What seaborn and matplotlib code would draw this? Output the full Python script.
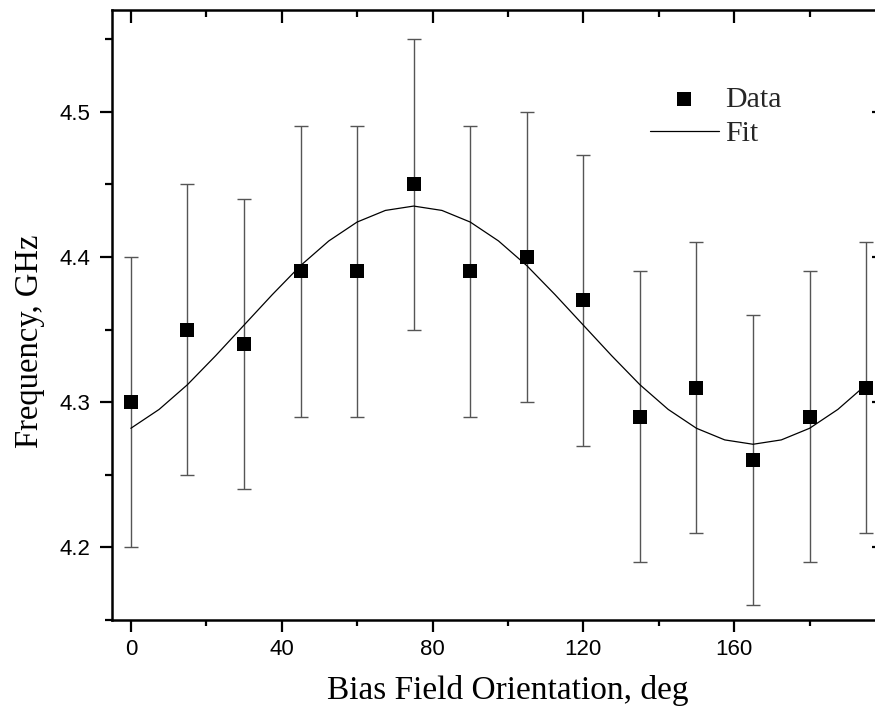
import matplotlib
matplotlib.use("Agg")
import matplotlib.pyplot as plt
import seaborn as sns
from matplotlib.ticker import MultipleLocator

# ---- data ----
angle = [0, 15, 30, 45, 60, 75, 90, 105, 120, 135, 150, 165, 180, 195]
freq = [4.30, 4.35, 4.34, 4.39, 4.39, 4.45, 4.39, 4.40, 4.37, 4.29, 4.31, 4.26, 4.29, 4.31]
freq_err = [0.10, 0.10, 0.10, 0.10, 0.10, 0.10, 0.10, 0.10, 0.10, 0.10, 0.10, 0.10, 0.10, 0.10]

# fit curve values every 7.5 deg
fit_angle = [0, 7.5, 15, 22.5, 30, 37.5, 45, 52.5, 60, 67.5, 75, 82.5, 90, 97.5,
             105, 112.5, 120, 127.5, 135, 142.5, 150, 157.5, 165, 172.5, 180, 187.5, 195]
fit_freq = [4.282, 4.295, 4.312, 4.332, 4.353, 4.374, 4.394, 4.411, 4.424, 4.432, 4.435,
            4.432, 4.424, 4.411, 4.394, 4.374, 4.353, 4.332, 4.312, 4.295, 4.282, 4.274,
            4.271, 4.274, 4.282, 4.295, 4.312]

x_ticks = [0, 40, 80, 120, 160]
y_ticks = [4.2, 4.3, 4.4, 4.5]

sns.set_theme(style="white")
plt.rcParams["font.family"] = ["Liberation Sans", "DejaVu Sans"]
serif = ["Liberation Serif", "DejaVu Serif"]

W, H = 875, 715
fig = plt.figure(figsize=(W / 100, H / 100), dpi=100)
ax = fig.add_axes([112 / W, 95 / H, 773 / W, 610 / H])

ax.errorbar(angle, freq, yerr=freq_err, fmt="none", ecolor="#555555",
            elinewidth=1.0, capsize=4.7, capthick=1.0, zorder=1)
sns.lineplot(x=fit_angle, y=fit_freq, ax=ax, color="black", linewidth=0.9,
             label="Fit", zorder=2)
sns.scatterplot(x=angle, y=freq, ax=ax, marker="s", s=88, color="black",
                linewidth=0, label="Data", zorder=3)

ax.set_xlim(-5, 200)
ax.set_ylim(4.15, 4.57)
ax.set_xticks(x_ticks)
ax.set_yticks(y_ticks)
ax.set_yticklabels([f"{v:.1f}" for v in y_ticks])
ax.xaxis.set_minor_locator(MultipleLocator(20))
ax.yaxis.set_minor_locator(MultipleLocator(0.05))

for s in ax.spines.values():
    s.set_visible(True)
    s.set_linewidth(1.8)
    s.set_color("black")

ax.tick_params(axis="both", which="both", color="black", width=1.6,
               labelsize=16, labelcolor="black")
ax.tick_params(axis="x", which="major", direction="out", length=8.6, pad=5,
               bottom=True, top=True)
ax.tick_params(axis="x", which="minor", direction="out", length=4.3,
               bottom=True, top=True)
ax.tick_params(axis="y", which="major", direction="out", length=8.6, pad=7,
               left=True, right=True)
ax.tick_params(axis="y", which="minor", direction="out", length=5,
               left=True, right=True)
# top and right ticks point inward
for t in ax.xaxis.get_major_ticks():
    t.tick2line.set_marker(3)
    t.tick2line.set_markersize(9.5)
for t in ax.xaxis.get_minor_ticks():
    t.tick2line.set_marker(3)
    t.tick2line.set_markersize(5)
for t in ax.yaxis.get_major_ticks():
    t.tick2line.set_marker(0)
    t.tick2line.set_markersize(9.5)
for t in ax.yaxis.get_minor_ticks():
    t.tick2line.set_marker(0)
    t.tick2line.set_markersize(5)

ax.set_xlabel("Bias Field Orientation, deg", family=serif, fontsize=24, color="black")
ax.set_ylabel("Frequency, GHz", family=serif, fontsize=23.5, color="black")
ax.xaxis.set_label_coords((508 - 112) / 773, (620 - 675) / 610)
ax.yaxis.set_label_coords((45 - 112) / 773, (620 - 341) / 610)

handles, labels = ax.get_legend_handles_labels()
order = [labels.index("Data"), labels.index("Fit")]
ax.legend([handles[i] for i in order], [labels[i] for i in order],
          loc="upper left", bbox_to_anchor=(650 / W, 1 - 86 / H),
          bbox_transform=fig.transFigure, frameon=False,
          prop={"family": serif, "size": 21.5}, handlelength=2.3,
          handletextpad=0.2, labelspacing=0.25, borderpad=0, borderaxespad=0)

fig.savefig("out.png", dpi=100)
